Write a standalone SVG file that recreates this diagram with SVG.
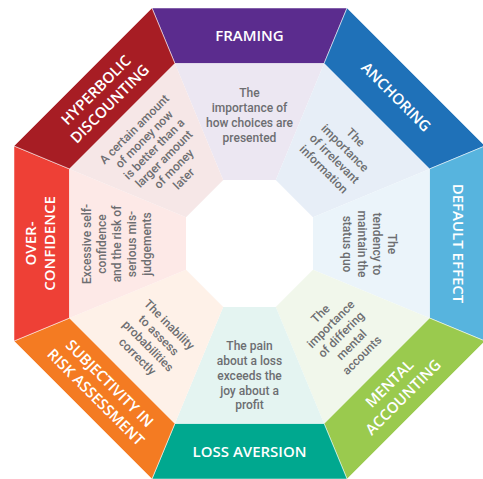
<svg xmlns="http://www.w3.org/2000/svg" width="483" height="479" viewBox="0 0 483 479">
<defs>
<style>
.band{stroke:#fff;stroke-width:0.5}
.lt{stroke:none}
.lab{font-family:"Open Sans","Noto Sans",sans-serif;font-weight:600;font-size:15px;fill:#fff;text-anchor:middle}
.desc{font-family:Roboto,"Open Sans",sans-serif;font-weight:500;font-size:12px;fill:#6d6e71;text-anchor:middle}
</style>
<polygon id="bandShape" points="151.95,8 347.05,8 324.06,63.5 174.94,63.5"/>
<polygon id="ltShape" points="174.94,63.5 324.06,63.5 275.8,180 223.2,180"/>
</defs>
<rect width="483" height="479" fill="#fff"/>

<g id="framing">
<use href="#bandShape" class="band" fill="#5B2C8E"/>
<use href="#ltShape" class="lt" fill="#ECE7F2"/>
<text class="lab" transform="translate(249.5,36)"><tspan x="0" y="5.4">FRAMING</tspan></text>
<text class="desc" transform="translate(249.5,115.5)"><tspan x="0" y="-19">The</tspan><tspan x="0" y="-4">importance of</tspan><tspan x="0" y="11">how choices are</tspan><tspan x="0" y="26">presented</tspan></text>
</g>

<g id="anchoring">
<g transform="rotate(45 249.5 243.5)">
<use href="#bandShape" class="band" fill="#1F71B8"/>
<use href="#ltShape" class="lt" fill="#E7EEF7"/>
</g>
<text class="lab" transform="translate(396.2,96.8) rotate(45)"><tspan x="0" y="5.4">ANCHORING</tspan></text>
<text class="desc" transform="translate(339.3,153.7) rotate(45)"><tspan x="0" y="-19">The</tspan><tspan x="0" y="-4">importance</tspan><tspan x="0" y="11">of irrelevant</tspan><tspan x="0" y="26">information</tspan></text>
</g>

<g id="default-effect">
<g transform="rotate(90 249.5 243.5)">
<use href="#bandShape" class="band" fill="#57B4DE"/>
<use href="#ltShape" class="lt" fill="#EBF4FA"/>
</g>
<text class="lab" transform="translate(458,243.5) rotate(90)"><tspan x="0" y="5.4">DEFAULT EFFECT</tspan></text>
<text class="desc" transform="translate(369,244) rotate(90)"><tspan x="0" y="-19">The</tspan><tspan x="0" y="-4">tendency to</tspan><tspan x="0" y="11">maintain the</tspan><tspan x="0" y="26">status quo</tspan></text>
</g>

<g id="mental-accounting">
<g transform="rotate(135 249.5 243.5)">
<use href="#bandShape" class="band" fill="#9ACA4E"/>
<use href="#ltShape" class="lt" fill="#F1F7EB"/>
</g>
<text class="lab" transform="translate(396.2,390.2) rotate(-45)"><tspan x="0" y="-4.35">MENTAL</tspan><tspan x="0" y="15.15">ACCOUNTING</tspan></text>
<text class="desc" transform="translate(341.7,335) rotate(-45)"><tspan x="0" y="-26.1">The</tspan><tspan x="0" y="-11.4">importance</tspan><tspan x="0" y="3.3">of differing</tspan><tspan x="0" y="18">mental</tspan><tspan x="0" y="32.7">accounts</tspan></text>
</g>

<g id="loss-aversion">
<g transform="rotate(180 249.5 243.5)">
<use href="#bandShape" class="band" fill="#00A88F"/>
<use href="#ltShape" class="lt" fill="#E4F4F1"/>
</g>
<text class="lab" transform="translate(249.5,452)"><tspan x="0" y="5.4">LOSS AVERSION</tspan></text>
<text class="desc" transform="translate(249.5,376.5)"><tspan x="0" y="-26.2">The pain</tspan><tspan x="0" y="-11.45">about a loss</tspan><tspan x="0" y="3.3">exceeds the</tspan><tspan x="0" y="18.05">joy about a</tspan><tspan x="0" y="32.8">profit</tspan></text>
</g>

<g id="subjectivity">
<g transform="rotate(225 249.5 243.5)">
<use href="#bandShape" class="band" fill="#F47B22"/>
<use href="#ltShape" class="lt" fill="#FEF1E8"/>
</g>
<text class="lab" transform="translate(102.8,390.2) rotate(45)"><tspan x="0" y="-4.35">SUBJECTIVITY IN</tspan><tspan x="0" y="15.15">RISK ASSESSMENT</tspan></text>
<text class="desc" transform="translate(153,341) rotate(45)"><tspan x="0" y="-19">The inability</tspan><tspan x="0" y="-4">to assess</tspan><tspan x="0" y="11">probabilities</tspan><tspan x="0" y="26">correctly</tspan></text>
</g>

<g id="over-confidence">
<g transform="rotate(270 249.5 243.5)">
<use href="#bandShape" class="band" fill="#EE4036"/>
<use href="#ltShape" class="lt" fill="#FDE9E7"/>
</g>
<text class="lab" transform="translate(40,243.5) rotate(-90)"><tspan x="0" y="-4.35">OVER-</tspan><tspan x="0" y="15.15">CONFIDENCE</tspan></text>
<text class="desc" transform="translate(118,244) rotate(-90)"><tspan x="0" y="-26.7">Excessive self-</tspan><tspan x="0" y="-11.7">confidence</tspan><tspan x="0" y="3.3">and the risk of</tspan><tspan x="0" y="18.3">serious mis-</tspan><tspan x="0" y="33.3">judgements</tspan></text>
</g>

<g id="hyperbolic-discounting">
<g transform="rotate(315 249.5 243.5)">
<use href="#bandShape" class="band" fill="#A71D24"/>
<use href="#ltShape" class="lt" fill="#F6E7E7"/>
</g>
<text class="lab" transform="translate(102.8,96.8) rotate(-45)"><tspan x="0" y="-4.35">HYPERBOLIC</tspan><tspan x="0" y="15.15">DISCOUNTING</tspan></text>
<text class="desc" transform="translate(159.5,154.5) rotate(-45)"><tspan x="0" y="-31.7">A certain amount</tspan><tspan x="0" y="-17.7">of money now</tspan><tspan x="0" y="-3.7">is better than a</tspan><tspan x="0" y="10.3">larger amount</tspan><tspan x="0" y="24.3">of money</tspan><tspan x="0" y="38.3">later</tspan></text>
</g>
</svg>
